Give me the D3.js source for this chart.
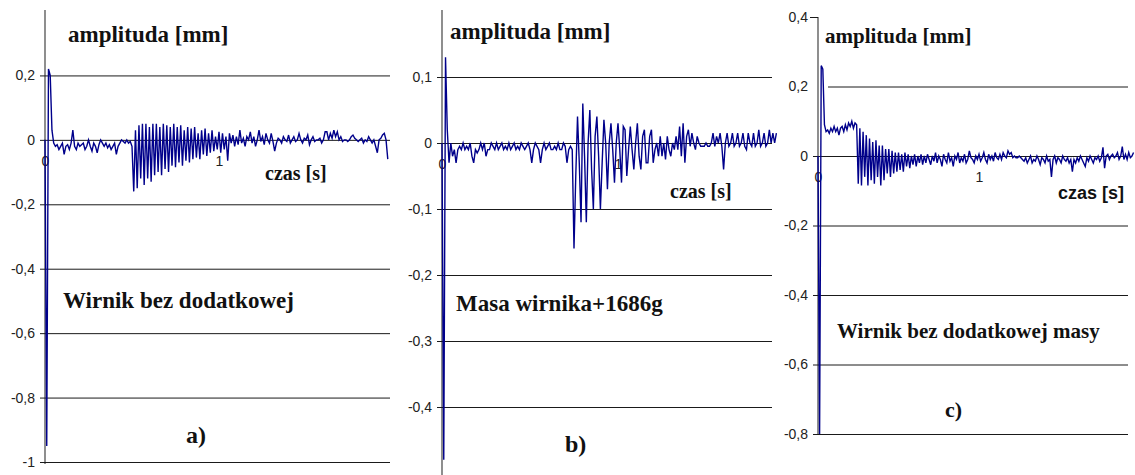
<!DOCTYPE html>
<html>
<head>
<meta charset="utf-8">
<script src="https://cdn.jsdelivr.net/npm/d3@7"></script>
<style>
  html, body { margin: 0; padding: 0; background: #fff; }
  svg { display: block; }
  .tick text { font-family: "Liberation Sans", Arial, sans-serif; font-size: 14px; fill: #222; }
  .serif { font-family: "Liberation Serif", "Times New Roman", "DejaVu Serif", serif; font-weight: bold; fill: #111; }
  .sansb { font-family: "Liberation Sans", Arial, sans-serif; font-weight: bold; fill: #111; }
</style>
</head>
<body>
<svg id="chart" width="1135" height="475"></svg>
<script>
// Sampling interval of the recorded displacement signals [s]
const sampleStep = 0.01;

// a) rotor without additional mass
const ampA = [
  0, -0.95, 0.22, 0.20, 0.03, -0.01, -0.02, -0.015, -0.03, -0.02,
  -0.01, -0.045, -0.02, -0.015, -0.03, -0.01, 0.03, -0.02, -0.03, -0.01,
  -0.02, -0.015, -0.01, -0.03, -0.02, 0.0, -0.02, -0.035, -0.01, -0.02,
  -0.04, -0.015, 0.0, -0.01, -0.02, -0.01, -0.025, -0.015, -0.03, -0.02,
  -0.01, -0.045, -0.02, -0.01, 0.0, -0.005, -0.01, 0.0, -0.01, -0.005,
  -0.02, -0.16, 0.03, -0.15, 0.045, -0.12, 0.05, -0.14, 0.05, -0.12,
  0.04, -0.13, 0.05, -0.11, 0.05, -0.10, 0.04, -0.11, 0.05, -0.09,
  0.045, -0.10, 0.04, -0.08, 0.05, -0.085, 0.04, -0.07, 0.045, -0.08,
  0.03, -0.065, 0.04, -0.07, 0.035, -0.06, 0.04, -0.055, 0.02, -0.06,
  0.03, -0.045, 0.035, -0.05, 0.02, -0.04, 0.03, -0.035, 0.01, -0.03,
  0.025, -0.04, 0.02, -0.03, 0.01, -0.065, 0.02, -0.01, 0.015, -0.02,
  0.01, -0.015, 0.03, -0.01, 0.005, -0.02, 0.01, 0.0, 0.025, -0.01,
  0.01, -0.02, 0.0, 0.03, -0.005, 0.01, -0.015, 0.02, 0.0, -0.01,
  0.02, -0.005, -0.035, -0.01, 0.005, 0.0, -0.01, 0.01, 0.0, -0.005,
  0.015, -0.01, 0.0, 0.01, -0.005, 0.0, 0.02, 0.0, -0.01, 0.005,
  0.0, 0.015, -0.015, 0.0, 0.01, -0.005, 0.0, 0.0, 0.005, -0.01,
  0.0, 0.025, 0.025, 0.0, 0.02, 0.005, 0.03, 0.01, 0.025, 0.0,
  0.01, -0.005, 0.0, 0.0, -0.005, 0.0, 0.01, 0.015, 0.005, 0.0,
  -0.005, 0.0, 0.005, -0.01, 0.0, -0.005, 0.01, 0.0, -0.01, 0.0,
  -0.02, -0.04, 0.0, 0.005, 0.015, 0.02, 0.0, -0.06
];

// b) rotor mass + 1686 g
const ampB = [
  0, -0.48, 0.13, 0.02, -0.03, 0.0, -0.02, -0.01, -0.03, -0.01,
  -0.005, -0.01, 0.0, -0.01, -0.005, -0.01, 0.0, -0.02, -0.03, -0.01,
  -0.015, -0.01, 0.0, -0.01, 0.0, -0.02, -0.01, -0.01, 0.0, -0.005,
  -0.01, 0.0, -0.01, -0.005, 0.0, -0.01, -0.005, -0.01, 0.0, -0.01,
  -0.005, 0.0, -0.01, -0.005, -0.01, 0.0, -0.005, -0.01, -0.005, 0.0,
  -0.01, -0.03, -0.01, 0.0, -0.005, -0.01, -0.03, -0.01, 0.0, -0.01,
  -0.005, 0.0, -0.01, -0.01, -0.005, -0.01, 0.0, -0.01, -0.01, 0.0,
  -0.005, -0.03, -0.01, -0.005, -0.01, -0.16, -0.05, 0.04, -0.03, -0.12,
  0.06, -0.02, -0.12, 0.0, 0.05, -0.04, -0.10, 0.01, 0.04, -0.02,
  -0.10, -0.03, 0.035, 0.0, -0.07, 0.0, 0.03, -0.01, -0.06, 0.0,
  0.03, -0.01, -0.06, 0.025, 0.02, -0.05, -0.01, 0.025, -0.01, -0.04,
  0.0, 0.03, -0.02, -0.04, 0.01, 0.02, -0.03, -0.03, 0.01, 0.02,
  -0.03, -0.01, 0.0, -0.02, 0.01, -0.02, 0.0, -0.025, 0.01, -0.01,
  -0.02, 0.0, -0.01, 0.01, -0.01, 0.025, -0.02, 0.03, -0.03, 0.01,
  0.02, -0.005, 0.015, 0.0, -0.01, 0.01, 0.0, -0.005, -0.005, -0.005,
  0.0, -0.005, -0.005, 0.0, 0.015, -0.005, 0.01, 0.0, 0.015, -0.005,
  -0.04, 0.0, 0.015, -0.005, 0.0, 0.015, -0.005, 0.0, 0.015, -0.005,
  0.0, 0.015, -0.005, -0.01, 0.015, 0.0, -0.005, 0.015, -0.005, 0.0,
  0.02, -0.005, 0.0, 0.015, -0.005, 0.0, 0.02, 0.0, 0.015, 0.0,
  0.015
];

// c) rotor without additional mass
const ampC = [
  0, -0.8, 0.26, 0.25, 0.09, 0.07, 0.075, 0.065, 0.08, 0.07,
  0.085, 0.07, 0.08, 0.06, 0.08, 0.085, 0.07, 0.09, 0.075, 0.095,
  0.085, 0.1, 0.08, 0.095, 0.09, -0.08, 0.08, -0.085, 0.07, -0.06,
  0.06, -0.085, 0.05, -0.07, 0.04, -0.08, 0.045, -0.06, 0.03, -0.085,
  0.03, -0.07, 0.02, -0.05, 0.02, -0.06, 0.015, -0.05, 0.01, -0.045,
  0.01, -0.04, 0.005, -0.045, 0.01, -0.03, 0.005, -0.035, 0.0, -0.025,
  0.005, -0.03, 0.0, -0.02, 0.005, -0.025, 0.0, -0.02, 0.005, -0.01,
  -0.025, 0.0, -0.015, 0.01, -0.02, 0.0, -0.01, -0.03, 0.005, -0.01,
  -0.02, 0.01, -0.015, -0.005, -0.03, 0.0, -0.01, 0.01, -0.02, -0.005,
  -0.015, 0.005, -0.02, -0.01, 0.015, -0.005, -0.01, -0.02, 0.0, -0.01,
  0.005, -0.015, -0.005, 0.01, -0.01, -0.02, 0.005, -0.01, 0.0, -0.015,
  0.01, -0.005, -0.01, 0.005, -0.01, 0.01, 0.0, -0.005, 0.015, 0.005,
  0.01, -0.005, 0.0, -0.005, -0.005, 0.0, -0.005, -0.01, -0.015, -0.005,
  -0.02, -0.01, 0.0, -0.02, -0.01, -0.015, 0.0, -0.01, -0.025, -0.005,
  -0.01, -0.02, 0.0, -0.015, -0.01, -0.06, -0.01, 0.0, -0.02, -0.005,
  -0.01, -0.02, 0.0, -0.01, -0.015, -0.005, -0.02, -0.01, -0.045, -0.01,
  -0.02, -0.005, -0.015, 0.0, -0.01, -0.02, -0.03, -0.005, -0.015, 0.0,
  -0.01, -0.02, -0.005, -0.01, 0.0, -0.015, -0.005, 0.025, -0.035, 0.0,
  0.005, -0.01, 0.0, 0.005, -0.005, 0.0, 0.01, -0.01, 0.0, 0.027,
  -0.01, 0.005, -0.01, 0.01, -0.005, 0.0, 0.01
];

// Axis ticks
const yTicksA = [0.2, 0, -0.2, -0.4, -0.6, -0.8, -1];
const yTicksB = [0.1, 0, -0.1, -0.2, -0.3, -0.4];
const yTicksC = [0.4, 0.2, 0, -0.2, -0.4, -0.6, -0.8];
const xTicks = [0, 1];

// Texts
const yTitle = "amplituda [mm]";
const xTitle = "czas [s]";
const captions = ["Wirnik bez dodatkowej", "Masa wirnika+1686g", "Wirnik bez dodatkowej masy"];
const panelLetters = ["a)", "b)", "c)"];

const plLocale = d3.formatLocale({ decimal: ",", thousands: " ", grouping: [3], currency: ["", ""], minus: "-" });
const fmt = plLocale.format(".1~f");

const svg = d3.select("#chart");

function drawPanel(p) {
  const x = d3.scaleLinear().domain([0, 1]).range([p.x0, p.x1]);
  const y = d3.scaleLinear().domain(p.yDomain).range(p.yRange);
  const g = svg.append("g");

  // vertical axis line
  g.append("line")
    .attr("x1", p.x0).attr("x2", p.x0)
    .attr("y1", p.axisTop).attr("y2", p.axisBottom)
    .attr("stroke", "#444").attr("stroke-width", 1.2);

  // y axis: labels, tick marks and horizontal grid lines
  const yAxis = g.append("g")
    .attr("transform", `translate(${p.x0},0)`)
    .call(d3.axisLeft(y).tickValues(p.yTicks).tickFormat(fmt)
      .tickSize(-(p.gridEnd - p.x0)).tickSizeOuter(0).tickPadding(10));
  yAxis.select(".domain").remove();
  yAxis.selectAll(".tick line")
    .attr("x1", d => (p.gridSkip.includes(d) ? 0 : (p.gridStart[d] || -5)))
    .attr("x2", d => (p.gridSkip.includes(d) ? -8 : p.gridEnd - p.x0))
    .attr("stroke", "#1a1a1a").attr("stroke-width", 1);

  // time axis labels under the zero line
  const xAxis = g.append("g")
    .attr("transform", `translate(0,${y(0)})`)
    .call(d3.axisBottom(x).tickValues(xTicks).tickFormat(fmt).tickSize(0).tickPadding(16));
  xAxis.select(".domain").remove();

  // signal
  const line = d3.line()
    .x((d, i) => x(i * sampleStep))
    .y(d => y(d));
  g.append("path")
    .datum(p.data)
    .attr("d", line)
    .attr("fill", "none")
    .attr("stroke", "#00008b")
    .attr("stroke-width", 1.4)
    .attr("stroke-linejoin", "miter");

  // titles and captions
  g.append("text").attr("class", "serif").attr("x", p.yTitle[0]).attr("y", p.yTitle[1])
    .style("font-size", p.fs + "px").text(yTitle);
  g.append("text").attr("class", p.xTitleSans ? "sansb" : "serif").attr("x", p.xTitle[0]).attr("y", p.xTitle[1])
    .style("font-size", p.xfs + "px").text(xTitle);
  g.append("text").attr("class", "serif").attr("x", p.caption[0]).attr("y", p.caption[1])
    .style("font-size", p.fs + "px").text(p.captionText);
  g.append("text").attr("class", "serif").attr("x", p.letter[0]).attr("y", p.letter[1])
    .style("font-size", (p.fs + 1) + "px").text(p.letterText);
}

drawPanel({
  data: ampA, x0: 45, x1: 219, yDomain: [-1, 0.4], yRange: [462, 11],
  axisTop: 10, axisBottom: 464, yTicks: yTicksA, gridEnd: 390, gridSkip: [], gridStart: {},
  yTitle: [68, 42], xTitle: [265, 180], caption: [63, 308], letter: [186, 443],
  captionText: captions[0], letterText: panelLetters[0], fs: 23, xfs: 20, xTitleSans: false
});

drawPanel({
  data: ampB, x0: 442, x1: 618, yDomain: [-0.5, 0.2], yRange: [473, 11],
  axisTop: 10, axisBottom: 475, yTicks: yTicksB, gridEnd: 772, gridSkip: [], gridStart: {},
  yTitle: [450, 39], xTitle: [670, 198], caption: [456, 311], letter: [565, 452],
  captionText: captions[1], letterText: panelLetters[1], fs: 23, xfs: 20, xTitleSans: false
});

drawPanel({
  data: ampC, x0: 818, x1: 979, yDomain: [-0.8, 0.4], yRange: [434, 17],
  axisTop: 17, axisBottom: 434, yTicks: yTicksC, gridEnd: 1128, gridSkip: [0.4], gridStart: { 0.2: 10 },
  yTitle: [825, 43], xTitle: [1058, 199], caption: [837, 338], letter: [945, 417],
  captionText: captions[2], letterText: panelLetters[2], fs: 21, xfs: 18, xTitleSans: true
});
</script>
</body>
</html>
